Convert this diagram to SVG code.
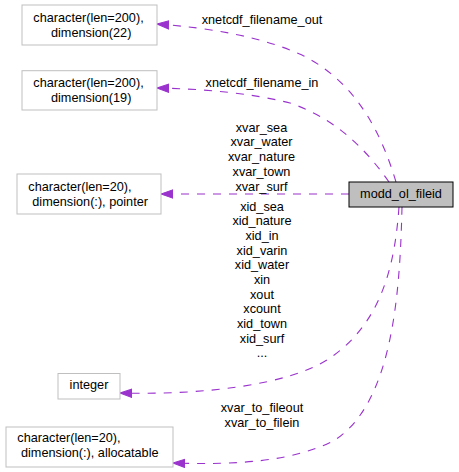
<svg xmlns="http://www.w3.org/2000/svg" width="459" height="472" viewBox="0 0 459 472">
<style>
text{font-family:"Liberation Sans",Arial,sans-serif;font-size:12.7px;fill:#000}
.n{fill:#fff;stroke:#bfbfbf;stroke-width:1}
.m{fill:#bfbfbf;stroke:#000;stroke-width:1}
.e{fill:none;stroke:#9a32cd;stroke-width:1.1;stroke-dasharray:8,8}
.c{text-anchor:middle}
</style>
<defs>
<marker id="ah" markerWidth="13" markerHeight="10" refX="12" refY="5" orient="auto" markerUnits="userSpaceOnUse">
<path d="M12,5 L0,0.8 L0,9.2 Z" fill="#9a32cd" stroke="#9a32cd"/>
</marker>
</defs>
<rect width="459" height="472" fill="#fff"/>
<g id="connectors">
<path class="e" marker-end="url(#ah)" d="M396,182 C381,132 356,82 302,55 C262,37 212,28 157,24"/>
<path class="e" marker-end="url(#ah)" d="M389,182 C370,155 340,120 290,103 C250,93 205,89 157,88"/>
<path class="e" marker-end="url(#ah)" d="M349,194 L161,194"/>
<path class="e" marker-end="url(#ah)" d="M399,207 C395,262 383,322 330,358 C288,386 200,395 120,393"/>
<path class="e" marker-end="url(#ah)" d="M402,207 C400,292 393,402 335,440 C293,462 235,465 173,463"/>
<g id="edge-labels" class="c">
<text x="262" y="24">xnetcdf_filename_out</text>
<text x="262" y="87">xnetcdf_filename_in</text>
<text x="261.5" y="131.7">xvar_sea</text>
<text x="261.5" y="146.4">xvar_water</text>
<text x="261.5" y="161.1">xvar_nature</text>
<text x="261.5" y="175.8">xvar_town</text>
<text x="261.5" y="190.5">xvar_surf</text>
<text x="262" y="210.7">xid_sea</text>
<text x="262" y="225.4">xid_nature</text>
<text x="262" y="240">xid_in</text>
<text x="262" y="254.7">xid_varin</text>
<text x="262" y="269.3">xid_water</text>
<text x="262" y="284">xin</text>
<text x="262" y="298.7">xout</text>
<text x="262" y="313.3">xcount</text>
<text x="262" y="328">xid_town</text>
<text x="262" y="342.6">xid_surf</text>
<text x="262" y="357.3">...</text>
<text x="262" y="411.7">xvar_to_fileout</text>
<text x="262" y="426.5">xvar_to_filein</text>
</g>
</g>
<g id="node-main">
<rect class="m" x="349" y="182" width="104" height="25"/>
<text class="c" x="401" y="197.5">modd_ol_fileid</text>
</g>
<g id="node-char200-22">
<rect class="n" x="22" y="5" width="135" height="40"/>
<text x="33.3" y="21.7">character(len=200),</text>
<text x="51" y="36.7">dimension(22)</text>
</g>
<g id="node-char200-19">
<rect class="n" x="22" y="70.7" width="135" height="39.3"/>
<text x="33.3" y="87.4">character(len=200),</text>
<text x="51" y="102.4">dimension(19)</text>
</g>
<g id="node-char20-pointer">
<rect class="n" x="17" y="174" width="144" height="40"/>
<text x="28.3" y="190.6">character(len=20),</text>
<text x="32.3" y="205.6">dimension(:), pointer</text>
</g>
<g id="node-integer">
<rect class="n" x="58" y="373.5" width="62" height="25.5"/>
<text class="c" x="89" y="389.3">integer</text>
</g>
<g id="node-char20-allocatable">
<rect class="n" x="6" y="427" width="167" height="40"/>
<text x="17.3" y="442.3">character(len=20),</text>
<text x="21" y="456.9">dimension(:), allocatable</text>
</g>
</svg>
